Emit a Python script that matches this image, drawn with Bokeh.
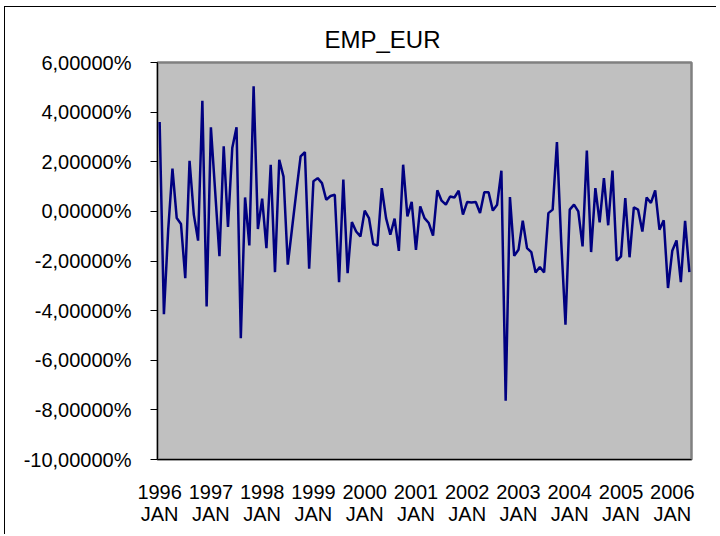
from bokeh.plotting import figure
from bokeh.models import FixedTicker, Range1d, ColumnDataSource
from bokeh.embed import file_html
from bokeh.resources import INLINE

title_text = "EMP_EUR"
start_year = 1996

# monthly values in percent, 1996 JAN .. 2006 MAY
values = [
    3.60, -4.14, -0.75, 1.72, -0.27, -0.51, -2.69, 2.04, -0.13, -1.18, 4.46, -3.83,
    3.39, 0.80, -1.81, 2.62, -0.63, 2.55, 3.39, -5.11, 0.56, -1.37, 5.04, -0.71,
    0.51, -1.48, 1.88, -2.45, 2.08, 1.40, -2.15, -0.68, 0.79, 2.22, 2.39, -2.31,
    1.21, 1.34, 1.14, 0.47, 0.62, 0.67, -2.85, 1.28, -2.49, -0.43, -0.81, -1.01,
    0.03, -0.27, -1.32, -1.38, 0.94, -0.27, -0.94, -0.29, -1.59, 1.88, -0.20, 0.38,
    -1.55, 0.20, -0.27, -0.47, -0.98, 0.85, 0.43, 0.27, 0.60, 0.56, 0.83, -0.13,
    0.38, 0.36, 0.38, -0.07, 0.77, 0.77, 0.03, 0.27, 1.64, -7.63, 0.58, -1.79,
    -1.55, -0.38, -1.48, -1.64, -2.46, -2.24, -2.46, -0.07, 0.07, 2.79, -1.21, -4.57,
    0.07, 0.27, 0.00, -1.41, 2.45, -1.64, 0.94, -0.44, 1.34, -0.56, 1.64, -1.99,
    -1.81, 0.54, -1.85, 0.16, 0.07, -0.81, 0.56, 0.34, 0.85, -0.74, -0.36, -3.09,
    -1.59, -1.17, -2.85, -0.38, -2.45,
]

x_tick_years = ["1996", "1997", "1998", "1999", "2000", "2001",
                "2002", "2003", "2004", "2005", "2006"]
x_tick_month = "JAN"
y_ticks = [-10, -8, -6, -4, -2, 0, 2, 4, 6]
y_tick_labels = ["-10,00000%", "-8,00000%", "-6,00000%", "-4,00000%", "-2,00000%",
                 "0,00000%", "2,00000%", "4,00000%", "6,00000%"]

FONT = "Liberation Sans"

idx = list(range(len(values)))
src = ColumnDataSource(dict(x=idx, y=values))

p = figure(width=712, height=528, output_backend="svg", toolbar_location=None,
           x_range=Range1d(-0.5, len(values) - 0.5), y_range=Range1d(-10, 6),
           min_border_left=152, min_border_right=26, min_border_top=55,
           min_border_bottom=76)
p.styles = {"margin-left": "4px", "margin-top": "6px",
            "border-left": "1px solid black", "border-top": "1px solid black"}
p.background_fill_color = "#C0C0C0"
p.border_fill_color = "white"
p.outline_line_color = "#808080"
p.outline_line_width = 2.5
p.grid.visible = False

p.line("x", "y", source=src, line_color="#000080", line_width=2.5)

# title
p.title.text = title_text
p.title.align = "left"
p.title.offset = 167
p.title.standoff = 19
p.title.text_font = FONT
p.title.text_font_size = "24px"
p.title.text_font_style = "normal"
p.title.text_color = "black"

# x axis
x_tick_pos = [i * 12 for i in range(len(x_tick_years))]
p.xaxis.ticker = FixedTicker(ticks=x_tick_pos)
p.xaxis.major_label_overrides = {pos: f"{yr}\n{x_tick_month}"
                                 for pos, yr in zip(x_tick_pos, x_tick_years)}
p.xaxis.major_tick_line_color = None
p.xaxis.minor_tick_line_color = None
p.xaxis.axis_line_color = "black"
p.xaxis.major_label_standoff = 15
p.xaxis.major_label_text_font = FONT
p.xaxis.major_label_text_font_size = "20px"
p.xaxis.major_label_text_line_height = 1.0
p.xaxis.major_label_text_color = "black"

# y axis
p.yaxis.ticker = FixedTicker(ticks=y_ticks)
p.yaxis.major_label_overrides = {t: lab for t, lab in zip(y_ticks, y_tick_labels)}
p.yaxis.minor_tick_line_color = None
p.yaxis.major_tick_in = 0
p.yaxis.major_tick_out = 7
p.yaxis.axis_line_color = "black"
p.yaxis.major_tick_line_color = "black"
p.yaxis.major_label_standoff = 19
p.yaxis.major_label_text_font = FONT
p.yaxis.major_label_text_font_size = "20px"
p.yaxis.major_label_text_color = "black"

open("out.html", "w").write(file_html(p, INLINE))
